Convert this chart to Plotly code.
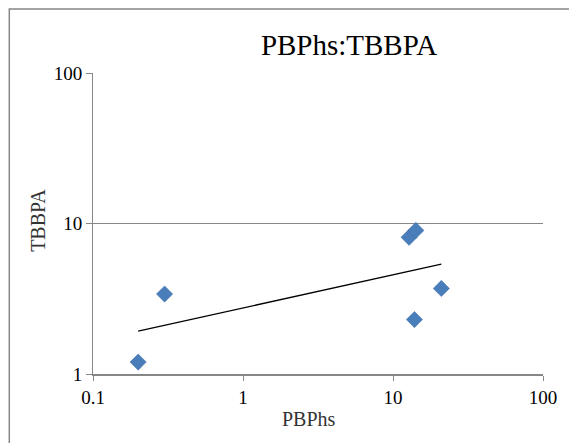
import numpy as np
import plotly.graph_objects as go

# Data
pbphs = [0.2, 0.3, 12.8, 14.2, 13.9, 21.0]
tbbpa = [1.2, 3.4, 8.1, 9.0, 2.3, 3.7]
x_ticks = [0.1, 1, 10, 100]
x_tick_text = ["0.1", "1", "10", "100"]
y_ticks = [1, 10, 100]
y_tick_text = ["1", "10", "100"]
title_text = "PBPhs:TBBPA"
x_title = "PBPhs"
y_title = "TBBPA"

# Power trendline (linear fit in log-log space)
lx = np.log10(pbphs)
ly = np.log10(tbbpa)
slope, intercept = np.polyfit(lx, ly, 1)
tx = np.array([min(pbphs), max(pbphs)])
ty = 10 ** (intercept + slope * np.log10(tx))

FONT = "Liberation Serif"
GRAY = "#878787"

fig = go.Figure()
fig.add_trace(go.Scatter(
    x=pbphs, y=tbbpa, mode="markers",
    marker=dict(symbol="diamond", size=12.5, color="#4a7ebb",
                line=dict(width=0.5, color="#3f6fa8")),
    showlegend=False, cliponaxis=False,
))
fig.add_trace(go.Scatter(
    x=tx, y=ty, mode="lines",
    line=dict(color="black", width=1.3),
    showlegend=False,
))

fig.update_layout(
    width=569, height=443,
    margin=dict(l=93, r=19, t=73, b=69),
    paper_bgcolor="white", plot_bgcolor="white",
    font=dict(family=FONT, color="black", size=19),
    title=dict(text=title_text, x=(353 - 93) / 457, xref="paper", xanchor="center",
               y=1 - 45 / 443, yref="container", yanchor="middle",
               font=dict(family=FONT, size=29, color="black")),
    xaxis=dict(type="log", range=[-1, 2], tickvals=x_ticks, ticktext=x_tick_text,
               showgrid=False, showline=True, linecolor=GRAY, linewidth=1.5,
               ticks="outside", ticklen=5, tickcolor=GRAY, zeroline=False,
               tickfont=dict(family=FONT, size=19, color="black")),
    yaxis=dict(type="log", range=[0, 2], tickvals=y_ticks, ticktext=y_tick_text,
               showgrid=True, gridcolor=GRAY, gridwidth=1,
               showline=True, linecolor=GRAY, linewidth=1,
               ticks="outside", ticklen=6, tickcolor=GRAY, zeroline=False,
               tickfont=dict(family=FONT, size=19, color="black")),
    annotations=[
        dict(text=x_title, xref="paper", yref="paper", x=(312 - 93) / 457,
             y=(374 - 419) / 301, showarrow=False, xanchor="center", yanchor="middle",
             font=dict(family=FONT, size=20, color="#333333")),
        dict(text=y_title, xref="paper", yref="paper", x=(37 - 93) / 457,
             y=(374 - 220) / 301, showarrow=False, textangle=-90,
             xanchor="center", yanchor="middle",
             font=dict(family=FONT, size=20, color="#333333")),
    ],
    shapes=[
        dict(type="rect", xref="paper", yref="paper",
             x0=(8 - 93) / 457, x1=1.3, y0=-0.5, y1=(374 - 9) / 301,
             line=dict(color=GRAY, width=1.5), fillcolor="rgba(0,0,0,0)", layer="below"),
    ],
)

fig.write_html(
    "out.html",
    config={"displayModeBar": False},
    post_script="document.body.style.margin='0';document.body.style.overflow='hidden';",
)
